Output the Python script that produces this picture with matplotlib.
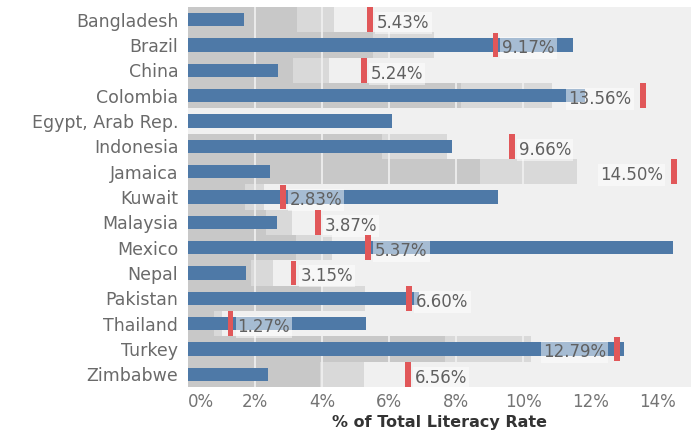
import numpy as np
import matplotlib.pyplot as plt

countries = ['Bangladesh', 'Brazil', 'China', 'Colombia', 'Egypt, Arab Rep.',
             'Indonesia', 'Jamaica', 'Kuwait', 'Malaysia', 'Mexico', 'Nepal',
             'Pakistan', 'Thailand', 'Turkey', 'Zimbabwe']
# blue bars (% of total literacy rate)
bar_values = [1.67, 11.49, 2.69, 11.85, 6.09, 7.88, 2.45, 9.25, 2.66,
              14.45, 1.73, 6.90, 5.31, 13.01, 2.39]
# red reference lines (None = no reference)
targets = [5.43, 9.17, 5.24, 13.56, None, 9.66, 14.50, 2.83, 3.87,
           5.37, 3.15, 6.60, 1.27, 12.79, 6.56]
# labels drawn on the left side of the reference line
left_labels = ['Colombia', 'Jamaica', 'Turkey']
# distribution bands as fraction of the reference
band_fractions = [0.6, 0.8]
band_colors = ['#c8c8c8', '#d9d9d9']
x_ticks = [0, 2, 4, 6, 8, 10, 12, 14]

fig = plt.figure(figsize=(6.91, 4.34), dpi=100)
ax = fig.add_axes([188 / 691, 47 / 434, 503 / 691, 380 / 434])
ax.set_facecolor('#f0f0f0')

y = np.arange(len(countries))

# bands
for i, t in enumerate(targets):
    if t is None:
        continue
    start = 0
    for frac, col in zip(band_fractions, band_colors):
        ax.barh(i, t * frac - start, left=start, height=1.0, color=col,
                linewidth=0, zorder=1)
        start = t * frac

# gridlines (only really show on the grey bands)
for xt in x_ticks[1:]:
    ax.axvline(xt, color='#f1f1f1', lw=1.2, zorder=1.5)

# blue bars
ax.barh(y, bar_values, height=0.52, color='#4e79a7', linewidth=0, zorder=2)

# reference lines + labels
for i, t in enumerate(targets):
    if t is None:
        continue
    ax.barh(i, 0.17, left=t - 0.085, height=0.98, color='#e15759',
            linewidth=0, zorder=4)
    if countries[i] in left_labels:
        dx, ha = -8, 'right'
    else:
        dx, ha = 5, 'left'
    ax.annotate(f'{t:.2f}%', (t, i), xytext=(dx, -2.5), textcoords='offset points',
                ha=ha, va='center', fontsize=12, color='#606060', zorder=3,
                bbox=dict(boxstyle='square,pad=0.12', fc='white', ec='none',
                          alpha=0.5))

ax.set_xlim(0, 15)
ax.set_ylim(len(countries) - 0.5, -0.5)
ax.set_yticks(y)
ax.set_yticklabels(countries, fontsize=12.5, color='#6a6a6a')
ax.set_xticks(x_ticks)
ax.set_xticklabels([f'{v}%' for v in x_ticks], fontsize=12, color='#747474')
ax.get_xticklabels()[0].set_horizontalalignment('left')
ax.tick_params(axis='y', length=0, pad=7)
ax.tick_params(axis='x', length=0, pad=4)
for s in ax.spines.values():
    s.set_visible(False)
ax.set_xlabel('% of Total Literacy Rate', fontsize=11.5, fontweight='bold',
              color='#333333', labelpad=3)

fig.savefig('out.png', dpi=100)
